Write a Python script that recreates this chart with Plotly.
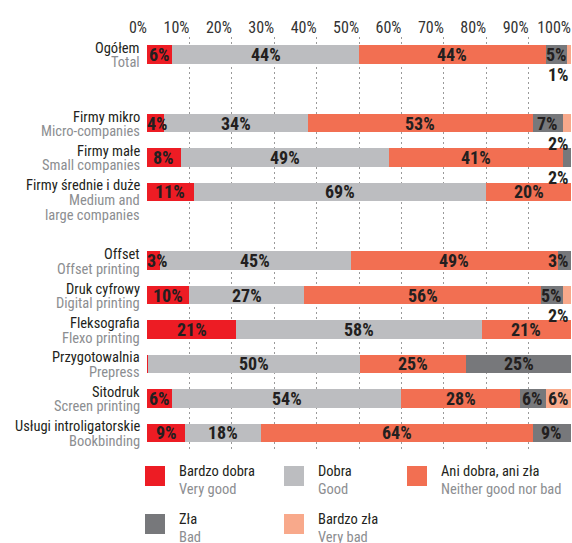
import plotly.graph_objects as go

# Survey rows (Polish / English), grouped: overall, company size, print technology
labels_pl = ["Ogółem", "Firmy mikro", "Firmy małe", "Firmy średnie i duże",
             "Offset", "Druk cyfrowy", "Fleksografia", "Przygotowalnia",
             "Sitodruk", "Usługi introligatorskie"]
labels_en = ["Total", "Micro-companies", "Small companies", "Medium and<br>large companies",
             "Offset printing", "Digital printing", "Flexo printing", "Prepress",
             "Screen printing", "Bookbinding"]
groups = [0, 1, 1, 1, 2, 2, 2, 2, 2, 2]

# Shares of answers (%)
very_good = [6, 4, 8, 11, 3, 10, 21, 0.3, 6, 9]
good = [44, 34, 49, 69, 45, 27, 58, 50, 54, 18]
neither = [44, 53, 41, 20, 49, 56, 21, 25, 28, 64]
bad = [5, 7, 2, 0, 3, 5, 0, 25, 6, 9]
very_bad = [1, 2, 0, 0, 0, 2, 0, 0, 6, 0]

series_pl = ["Bardzo dobra", "Dobra", "Ani dobra, ani zła", "Zła", "Bardzo zła"]
series_en = ["Very good", "Good", "Neither good nor bad", "Bad", "Very bad"]
colors = ["#ED1C24", "#BCBDC0", "#F26F52", "#77787B", "#F8A98B"]

tick_vals = [0, 10, 20, 30, 40, 50, 60, 70, 80, 90, 100]
tick_text = [f"{v}%" for v in tick_vals]

FONT = "Roboto Condensed, Liberation Sans Narrow, sans-serif"
DARK = "#231F20"
GREY_TXT = "#8C8E91"
LABEL_SIZE = 14.5

W, H = 572, 543
ML, MR, MT, MB = 147, 1, 37, 93
PW, PH = W - ML - MR, H - MT - MB

# a blank row separates each group
slots = [i + g for i, g in enumerate(groups)]
n_slots = slots[-1] + 1

series = [very_good, good, neither, bad, very_bad]

fig = go.Figure()
for vals, name, col in zip(series, series_pl, colors):
    fig.add_trace(go.Bar(
        x=vals, y=slots, orientation="h", width=0.54,
        marker=dict(color=col, line=dict(width=0)),
        name=name, showlegend=False, hoverinfo="skip",
    ))

annotations = []
value_font = dict(family=FONT, size=18, color=DARK, weight="bold")

# value labels
for r, s in enumerate(slots):
    left = 0
    for vals in series:
        v = vals[r]
        if v >= 3:
            cx = min(max(left + v / 2, 2.4), 97.0)
            annotations.append(dict(
                x=cx, y=s, xref="x", yref="y", text=f"{round(v)}%",
                showarrow=False, xanchor="center", yanchor="middle",
                font=value_font,
            ))
        elif v >= 1:
            annotations.append(dict(
                x=100, y=s, xref="x", yref="y", text=f"{round(v)}%",
                showarrow=False, xanchor="right", yanchor="middle", yshift=-20,
                font=value_font,
            ))
        left += v

# row labels: Polish line above, English lines below
for r, s in enumerate(slots):
    annotations.append(dict(
        x=0, y=s, xref="paper", yref="y", text=labels_pl[r], showarrow=False,
        xanchor="right", yanchor="middle", xshift=-5, yshift=6,
        font=dict(family=FONT, size=LABEL_SIZE, color=DARK),
    ))
    for k, line in enumerate(labels_en[r].split("<br>")):
        annotations.append(dict(
            x=0, y=s, xref="paper", yref="y", text=line, showarrow=False,
            xanchor="right", yanchor="middle", xshift=-5, yshift=-8.5 - 15.5 * k,
            font=dict(family=FONT, size=LABEL_SIZE, color=GREY_TXT),
        ))


def px_x(px):
    return (px - ML) / PW


def px_y(py):
    return (H - MB - py) / PH


# two-line legend built from swatches and text
legend_pos = [(145, 466), (284, 466), (407, 466), (145, 514), (284, 514)]
shapes = []
for (px, py), col, pl, en in zip(legend_pos, colors, series_pl, series_en):
    shapes.append(dict(
        type="rect", xref="paper", yref="paper",
        x0=px_x(px), x1=px_x(px + 20), y0=px_y(py), y1=px_y(py + 20),
        fillcolor=col, line=dict(width=0),
    ))
    annotations.append(dict(
        x=px_x(px + 32), y=px_y(py + 5), xref="paper", yref="paper",
        text=pl, showarrow=False, xanchor="left", yanchor="middle",
        font=dict(family=FONT, size=LABEL_SIZE, color=DARK),
    ))
    annotations.append(dict(
        x=px_x(px + 32), y=px_y(py + 23), xref="paper", yref="paper",
        text=en, showarrow=False, xanchor="left", yanchor="middle",
        font=dict(family=FONT, size=LABEL_SIZE, color=GREY_TXT),
    ))

fig.update_layout(
    width=W, height=H,
    margin=dict(l=ML, r=MR, t=MT, b=MB, pad=0),
    paper_bgcolor="white", plot_bgcolor="white",
    barmode="stack",
    showlegend=False,
    annotations=annotations,
    shapes=shapes,
    xaxis=dict(
        range=[0, 100], side="top", tickvals=tick_vals, ticktext=tick_text,
        ticklabelposition="outside left", ticks="", tickangle=0,
        showgrid=True, gridcolor="#9A9A9A", gridwidth=1, griddash="2px,3px",
        zeroline=False, showline=False, fixedrange=True,
        tickfont=dict(family=FONT, size=16, color="#333333"),
    ),
    yaxis=dict(
        range=[n_slots - 0.5, -0.5], showticklabels=False, showgrid=False,
        zeroline=False, showline=False, fixedrange=True,
    ),
)

fig.write_html("out.html")
